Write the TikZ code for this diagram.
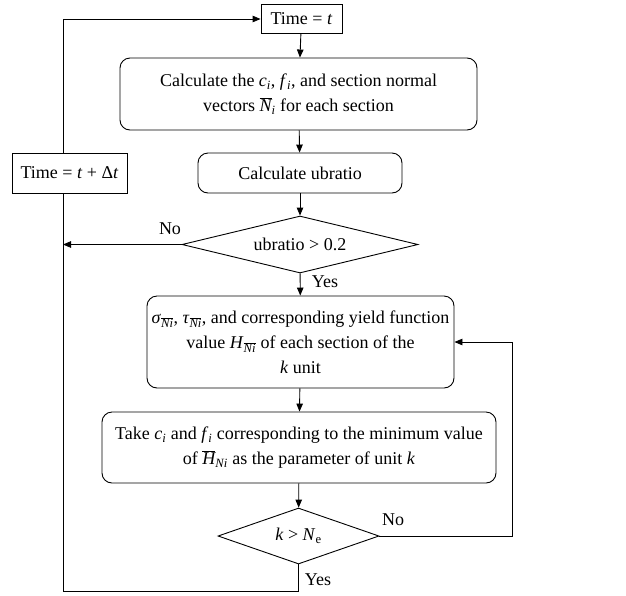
\documentclass[tikz,border=0pt]{standalone}
\usepackage{fontspec}
\setmainfont{Liberation Serif}
\usetikzlibrary{shapes.geometric,arrows.meta}
% italic symbol with subscript, and an overlined group
\newcommand{\lsub}[1]{\textsubscript{#1}}
\newcommand{\obar}[1]{\(\overline{\mbox{#1}}\)}
\begin{document}
\begin{tikzpicture}[x=1pt,y=-1pt,
  font=\fontsize{18}{25}\selectfont,
  wire/.style={line width=0.9pt},
  flow/.style={wire, -{Triangle[length=8pt,width=6.5pt]}},
  sqbox/.style={draw, line width=0.9pt, rectangle, inner sep=0pt, align=center},
  rbox/.style={draw, line width=0.9pt, rounded corners=10pt, inner sep=0pt, align=center},
  dec/.style={draw, line width=0.9pt, diamond, inner sep=0pt},
  lbl/.style={inner sep=0pt}]
\useasboundingbox (0,0) rectangle (626,595);

% process boxes
\node[sqbox, minimum width=81pt, minimum height=29pt] (t0) at (301.5,18.5) {Time = \textit{t}};
\node[rbox, minimum width=357pt, minimum height=72pt] (c1) at (298.5,94)
  {Calculate the \textit{c}\lsub{\itshape i}, \textit{f}\lsub{\itshape i}, and section normal\\
   vectors \obar{\itshape N}\lsub{\itshape i} for each section};
\node[rbox, minimum width=204pt, minimum height=40pt] (c2) at (300,173) {Calculate ubratio};
\node[sqbox, minimum width=115pt, minimum height=40pt] (tdt) at (69.5,173) {Time = \textit{t} + Δ\textit{t}};
\node[dec, aspect=4.14, minimum width=236pt, minimum height=57pt] (d1) at (300,244.5) {ubratio > 0.2};
\node[rbox, minimum width=307pt, minimum height=92pt] (c3) at (300.5,342)
  {\textit{σ}\lsub{\obar{\itshape Ni}}, \textit{τ}\lsub{\obar{\itshape Ni}}, and corresponding yield function\\
   value \textit{H}\lsub{\obar{\itshape Ni}} of each section of the\\
   \textit{k} unit};
\node[rbox, minimum width=394pt, minimum height=71pt] (c4) at (299,447.5)
  {Take \textit{c}\lsub{\itshape i} and \textit{f}\lsub{\itshape i} corresponding to the minimum value\\
   of \obar{\itshape H}\lsub{\itshape Ni} as the parameter of unit \textit{k}};
\node[dec, aspect=2.9, minimum width=161pt, minimum height=56pt] (d2) at (298.5,536)
  {\textit{k} > \textit{N}\lsub{e}};

% routing points
\coordinate (noleft) at (63,244.5);
\coordinate (noright) at (512,536);
\coordinate (bottom) at (298.5,591);
\coordinate (leftbot) at (63,591);
\coordinate (lefttop) at (63,19);

% connectors
\draw[flow] (t0) -- (c1);
\draw[flow] (c1) -- (c2);
\draw[flow] (c2) -- (d1);
\draw[flow] (d1) -- (c3);
\draw[flow] (d1.west) -- (noleft);
\draw[flow] (c3) -- (c4);
\draw[flow] (c4) -- (d2);
\draw[flow] (d2.east) -- (noright) |- (c3.east);
\draw[wire] (d2.south) -- (bottom) -- (leftbot) -- (leftbot |- tdt.south);
\draw[flow] (lefttop |- tdt.north) -- (lefttop) -- (t0.west |- lefttop);

% branch labels
\node[lbl] (no1) at (170,229) {No};
\node[lbl] (yes1) at (325,282) {Yes};
\node[lbl] (no2) at (393,520) {No};
\node[lbl] (yes2) at (318,580) {Yes};
\end{tikzpicture}
\end{document}
